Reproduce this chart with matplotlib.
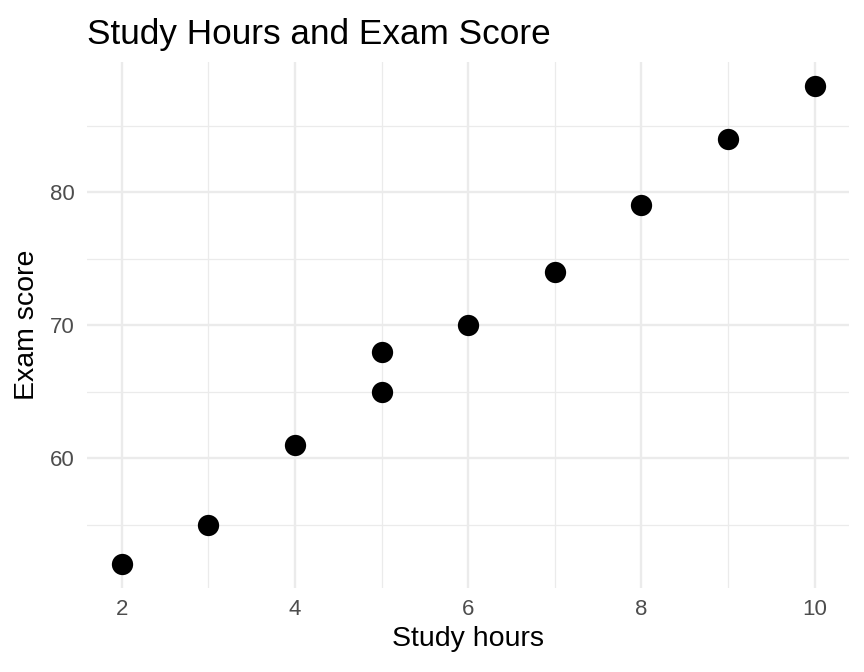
import numpy as np
import matplotlib
matplotlib.use("Agg")
import matplotlib.pyplot as plt

# study hours vs exam score
hours = [2, 3, 4, 5, 5, 6, 7, 8, 9, 10]
scores = [52, 55, 61, 65, 68, 70, 74, 79, 84, 88]

x_major = [2, 4, 6, 8, 10]
x_minor = [3, 5, 7, 9]
y_major = [60, 70, 80]
y_minor = [55, 65, 75, 85]

plt.rcParams['font.family'] = ['Liberation Sans', 'DejaVu Sans']

fig = plt.figure(figsize=(8.64, 6.72), dpi=100)
ax = fig.add_axes([0.101, 0.1245, 0.882, 0.7835])

ax.set_xlim(1.6, 10.4)
ax.set_ylim(50.2, 89.8)

for v in x_minor:
    ax.axvline(v, color='#EBEBEB', lw=0.9, zorder=0)
for v in y_minor:
    ax.axhline(v, color='#EBEBEB', lw=0.9, zorder=0)
for v in x_major:
    ax.axvline(v, color='#EBEBEB', lw=1.7, zorder=0)
for v in y_major:
    ax.axhline(v, color='#EBEBEB', lw=1.7, zorder=0)

ax.scatter(hours, scores, s=235, color='black', zorder=3, linewidths=0)

ax.set_xticks(x_major)
ax.set_yticks(y_major)
ax.tick_params(length=0, labelsize=16, labelcolor='#4D4D4D')
ax.tick_params(axis='x', pad=8)
ax.tick_params(axis='y', pad=9)
for s in ax.spines.values():
    s.set_visible(False)

ax.set_xlabel('Study hours', fontsize=20.5, color='black', labelpad=4)
ax.set_ylabel('Exam score', fontsize=20.5, color='black', labelpad=7)
ax.set_title('Study Hours and Exam Score', fontsize=25.3, loc='left', pad=13, color='black')

fig.savefig('out.png', dpi=100)
